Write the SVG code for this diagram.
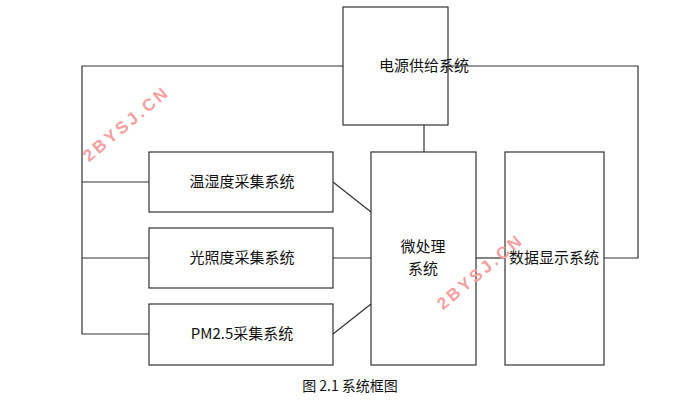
<svg xmlns="http://www.w3.org/2000/svg" width="700" height="415" viewBox="0 0 700 415">
<style>
.b{fill:#fff;stroke:#333;stroke-width:1.2}
.t{font-family:"Noto Sans CJK SC","Liberation Sans",sans-serif;font-size:15px;fill:#111;text-anchor:middle}
.w{font-family:"Liberation Sans",sans-serif;font-size:17px;font-weight:bold;fill:#f2a0a0;letter-spacing:3px;text-anchor:middle}
.c{stroke:#333;stroke-width:1.2;fill:none}
</style>
<rect width="700" height="415" fill="#fff"/>
<g id="power"><rect class="b" x="343" y="7" width="105" height="118"/><text class="t" x="424" y="71">电源供给系统</text></g>
<g id="temp"><rect class="b" x="149" y="152" width="184" height="60"/><text class="t" x="242" y="187">温湿度采集系统</text></g>
<g id="light"><rect class="b" x="149" y="228" width="184" height="60"/><text class="t" x="242" y="263">光照度采集系统</text></g>
<g id="pm"><rect class="b" x="149" y="304" width="184" height="61"/><text class="t" x="242" y="339">PM2.5采集系统</text></g>
<g id="micro"><rect class="b" x="371" y="152" width="105" height="213"/><text class="t" x="423" y="252">微处理</text><text class="t" x="423" y="274">系统</text></g>
<g id="display"><rect class="b" x="505" y="152" width="99" height="213"/><text class="t" x="554" y="263">数据显示系统</text></g>
<g id="conn">
<polyline class="c" points="343,66 82,66 82,334 149,334"/>
<line class="c" x1="82" y1="182" x2="149" y2="182"/>
<line class="c" x1="82" y1="258" x2="149" y2="258"/>
<polyline class="c" points="448,66 638,66 638,258 604,258"/>
<line class="c" x1="424" y1="125" x2="424" y2="152"/>
<line class="c" x1="333" y1="182" x2="371" y2="212"/>
<line class="c" x1="333" y1="258" x2="371" y2="258"/>
<line class="c" x1="333" y1="334" x2="371" y2="304"/>
<line class="c" x1="476" y1="258" x2="505" y2="258"/>
</g>
<text class="w" transform="translate(130,128) rotate(-40)">2BYSJ.CN</text>
<text class="w" transform="translate(484,276) rotate(-40)">2BYSJ.CN</text>
<text class="t" x="350" y="391" style="font-size:14px">图 2.1 系统框图</text>
</svg>
